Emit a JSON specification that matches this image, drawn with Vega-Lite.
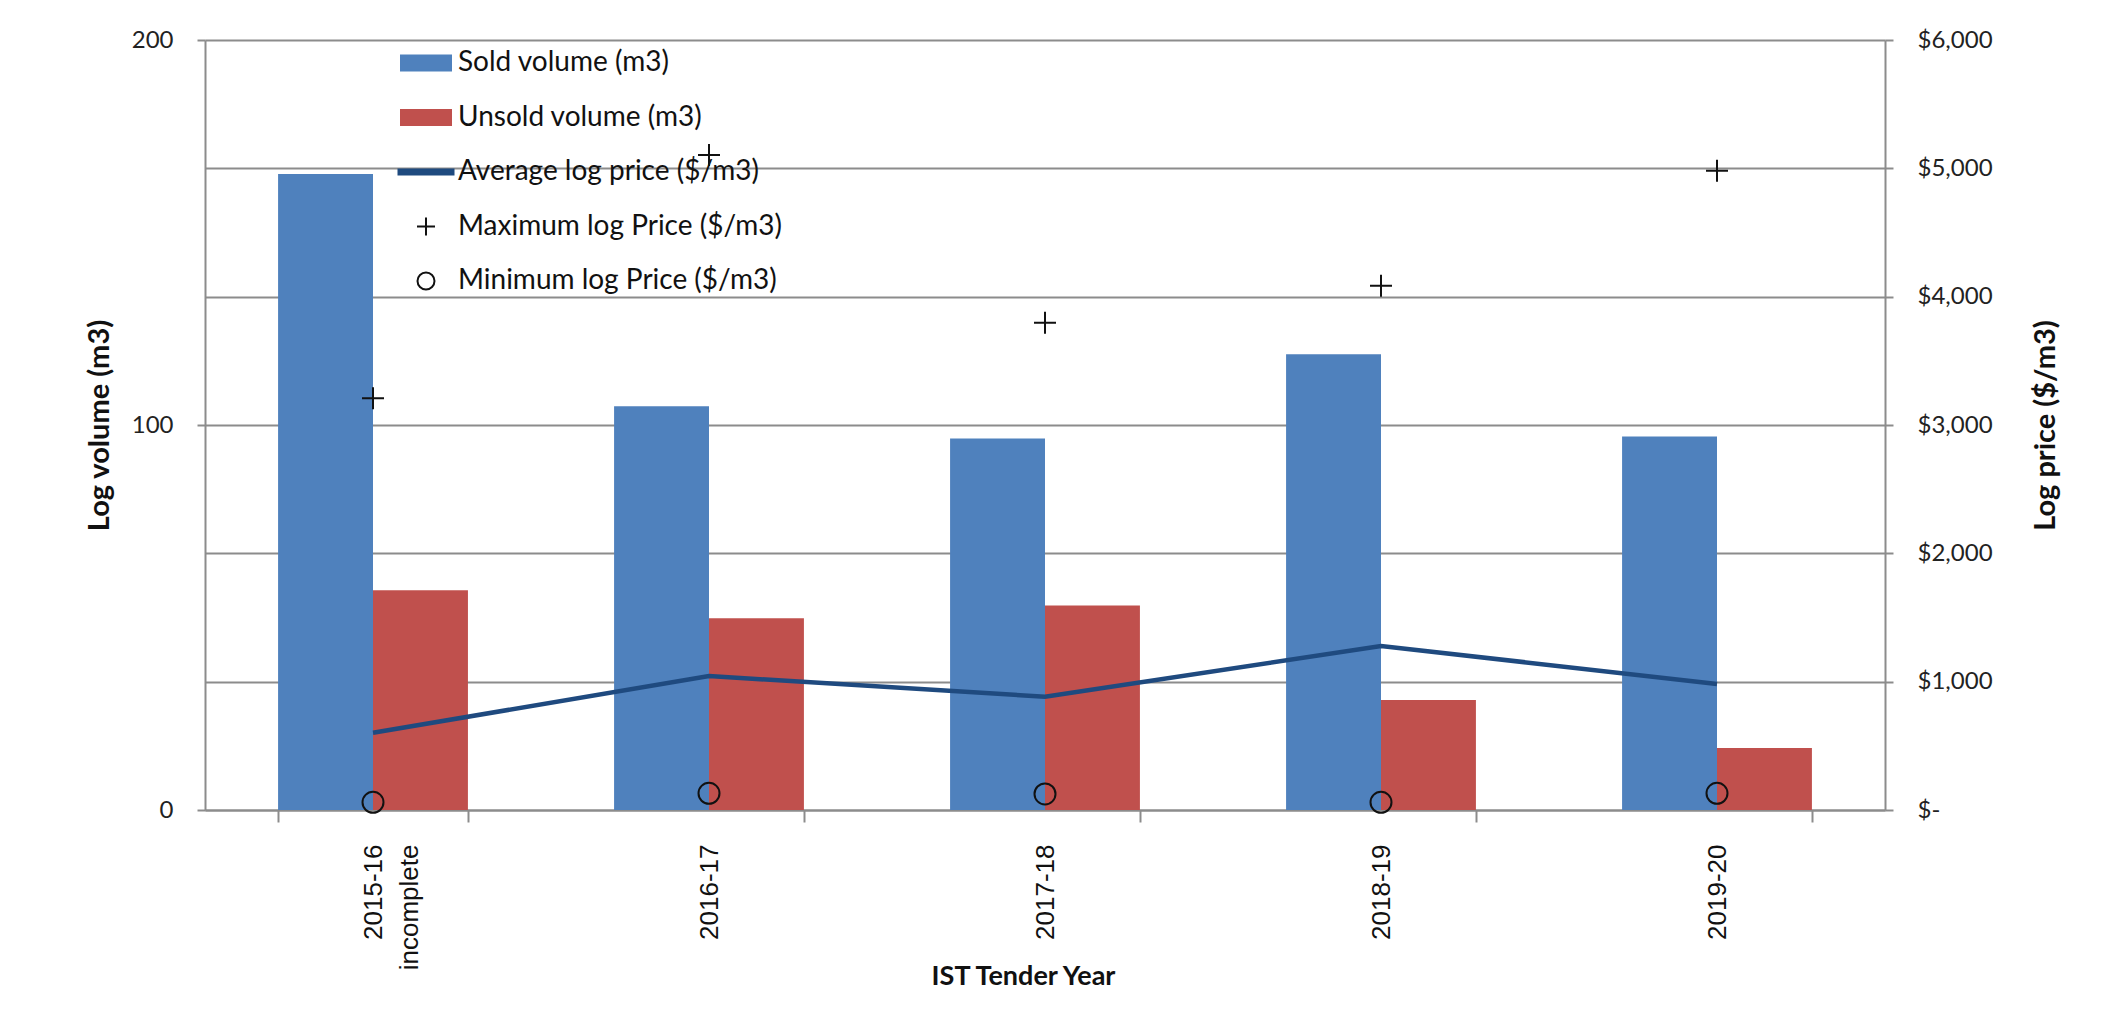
{
  "$schema": "https://vega.github.io/schema/vega-lite/v6.json",
  "width": 1680,
  "height": 770,
  "autosize": {"type": "none"},
  "padding": {"left": 205, "top": 40, "right": 219, "bottom": 202},
  "background": "white",
  "config": {"view": {"stroke": null}, "font": "Lato"},
  "data": {
    "values": [
      {"year": "2015-16\nincomplete", "series": "Sold volume (m3)", "value": 165.2},
      {"year": "2016-17", "series": "Sold volume (m3)", "value": 104.9},
      {"year": "2017-18", "series": "Sold volume (m3)", "value": 96.5},
      {"year": "2018-19", "series": "Sold volume (m3)", "value": 118.4},
      {"year": "2019-20", "series": "Sold volume (m3)", "value": 97.0},
      {"year": "2015-16\nincomplete", "series": "Unsold volume (m3)", "value": 57.1},
      {"year": "2016-17", "series": "Unsold volume (m3)", "value": 49.8},
      {"year": "2017-18", "series": "Unsold volume (m3)", "value": 53.1},
      {"year": "2018-19", "series": "Unsold volume (m3)", "value": 28.6},
      {"year": "2019-20", "series": "Unsold volume (m3)", "value": 16.1},
      {"year": "2015-16\nincomplete", "series": "Average log price ($/m3)", "value": 602},
      {"year": "2016-17", "series": "Average log price ($/m3)", "value": 1044},
      {"year": "2017-18", "series": "Average log price ($/m3)", "value": 883},
      {"year": "2018-19", "series": "Average log price ($/m3)", "value": 1278},
      {"year": "2019-20", "series": "Average log price ($/m3)", "value": 982},
      {"year": "2015-16\nincomplete", "series": "Maximum log Price ($/m3)", "value": 3208},
      {"year": "2016-17", "series": "Maximum log Price ($/m3)", "value": 5104},
      {"year": "2017-18", "series": "Maximum log Price ($/m3)", "value": 3797},
      {"year": "2018-19", "series": "Maximum log Price ($/m3)", "value": 4085},
      {"year": "2019-20", "series": "Maximum log Price ($/m3)", "value": 4981},
      {"year": "2015-16\nincomplete", "series": "Minimum log Price ($/m3)", "value": 60},
      {"year": "2016-17", "series": "Minimum log Price ($/m3)", "value": 130},
      {"year": "2017-18", "series": "Minimum log Price ($/m3)", "value": 125},
      {"year": "2018-19", "series": "Minimum log Price ($/m3)", "value": 60},
      {"year": "2019-20", "series": "Minimum log Price ($/m3)", "value": 130}
    ]
  },
  "encoding": {
    "x": {
      "field": "year",
      "type": "nominal",
      "sort": null,
      "scale": {"paddingInner": 0.435, "paddingOuter": 0.2175},
      "axis": {
        "title": "IST Tender Year",
        "titleFont": "Lato",
        "titleFontSize": 27,
        "titleFontWeight": "bold",
        "titleColor": "#111",
        "titleX": 818,
        "titleY": 166,
        "titleBaseline": "middle",
        "labelAngle": 270,
        "labelFont": "Liberation Sans",
        "labelFontSize": 26,
        "labelColor": "#111",
        "labelLineHeight": 36,
        "labelPadding": 22,
        "labelExpr": "split(datum.label, '\\n')",
        "tickBand": "extent",
        "tickSize": 12,
        "tickColor": "#8c8c8c",
        "tickWidth": 2,
        "domainColor": "#8c8c8c",
        "domainWidth": 2,
        "grid": false
      }
    }
  },
  "layer": [
    {
      "transform": [{"filter": "datum.series == 'Sold volume (m3)' || datum.series == 'Unsold volume (m3)'"}],
      "mark": {"type": "bar"},
      "encoding": {
        "xOffset": {"field": "series", "type": "nominal", "sort": null, "scale": {"paddingInner": 0, "paddingOuter": 0}},
        "y": {
          "field": "value",
          "type": "quantitative",
          "scale": {"domain": [0, 200], "nice": false},
          "axis": {
            "orient": "left",
            "values": [0, 100, 200],
            "grid": false,
            "title": "Log volume (m3)",
            "titleFont": "Lato",
            "titleFontSize": 29,
            "titleFontWeight": "bold",
            "titleColor": "#111",
            "titleX": -106,
            "titleBaseline": "middle",
            "labelFont": "Lato",
            "labelFontSize": 24,
            "labelColor": "#222",
            "labelPadding": 24,
            "tickSize": 8,
            "tickColor": "#8c8c8c",
            "tickWidth": 2,
            "domainColor": "#8c8c8c",
            "domainWidth": 2
          }
        },
        "color": {
          "field": "series",
          "type": "nominal",
          "scale": {
            "domain": ["Sold volume (m3)", "Unsold volume (m3)", "Average log price ($/m3)", "Maximum log Price ($/m3)", "Minimum log Price ($/m3)"],
            "range": ["#4F81BD", "#C0504D", "#1F4A7F", "#111111", "#111111"]
          },
          "legend": {
            "orient": "none",
            "legendX": 195,
            "legendY": -3,
            "title": null,
            "padding": 0,
            "symbolSize": 2500,
            "labelOffset": 6,
            "rowPadding": 14.5,
            "labelFont": "Lato",
            "labelFontSize": 28,
            "labelColor": "#111",
            "labelLimit": 600,
            "encode": {
              "symbols": {
                "update": {
                  "shape": {"signal": "datum.value == 'Average log price ($/m3)' ? 'M-1.1,-0.1H1.1V0.1H-1.1Z' : datum.value == 'Maximum log Price ($/m3)' ? 'M-0.36,0H0.36M0,-0.36V0.36' : datum.value == 'Minimum log Price ($/m3)' ? 'M0.34,0A0.34,0.34,0,1,1,-0.34,0A0.34,0.34,0,1,1,0.34,0Z' : 'M-1,-0.3H1V0.3H-1Z'"},
                  "fill": {"signal": "datum.value == 'Sold volume (m3)' ? '#4F81BD' : datum.value == 'Unsold volume (m3)' ? '#C0504D' : datum.value == 'Average log price ($/m3)' ? '#1F4A7F' : 'transparent'"},
                  "fillOpacity": {"signal": "datum.value == 'Maximum log Price ($/m3)' || datum.value == 'Minimum log Price ($/m3)' ? 0 : 1"},
                  "stroke": {"signal": "datum.value == 'Maximum log Price ($/m3)' || datum.value == 'Minimum log Price ($/m3)' ? '#111111' : 'transparent'"},
                  "strokeWidth": {"value": 2},
                  "opacity": {"value": 1}
                }
              }
            }
          }
        }
      }
    },
    {
      "encoding": {
        "y": {
          "field": "value",
          "type": "quantitative",
          "scale": {"domain": [0, 6000], "nice": false},
          "axis": {
            "orient": "right",
            "values": [0, 1000, 2000, 3000, 4000, 5000, 6000],
            "grid": true,
            "gridColor": "#8c8c8c",
            "gridWidth": 1.8,
            "title": "Log price ($/m3)",
            "titleFont": "Lato",
            "titleFontSize": 29,
            "titleFontWeight": "bold",
            "titleColor": "#111",
            "titleAngle": 270,
            "titleX": 160,
            "titleBaseline": "middle",
            "labelFont": "Lato",
            "labelFontSize": 24,
            "labelColor": "#222",
            "labelPadding": 24,
            "labelExpr": "datum.value == 0 ? '$-' : '$' + format(datum.value, ',')",
            "tickSize": 8,
            "tickColor": "#8c8c8c",
            "tickWidth": 2,
            "domainColor": "#8c8c8c",
            "domainWidth": 2
          }
        }
      },
      "layer": [
        {
          "transform": [{"filter": "datum.series == 'Average log price ($/m3)'"}],
          "mark": {"type": "line", "strokeWidth": 4.5},
          "encoding": {"color": {"field": "series", "type": "nominal"}}
        },
        {
          "transform": [{"filter": "datum.series == 'Maximum log Price ($/m3)'"}],
          "mark": {"type": "point", "shape": "M-1,0H1M0,-1V1", "size": 484, "filled": false, "strokeWidth": 2, "opacity": 1},
          "encoding": {"color": {"field": "series", "type": "nominal"}}
        },
        {
          "transform": [{"filter": "datum.series == 'Minimum log Price ($/m3)'"}],
          "mark": {"type": "point", "shape": "circle", "size": 441, "filled": false, "strokeWidth": 2, "opacity": 1},
          "encoding": {"color": {"field": "series", "type": "nominal"}}
        }
      ]
    }
  ],
  "resolve": {"scale": {"y": "independent"}}
}
